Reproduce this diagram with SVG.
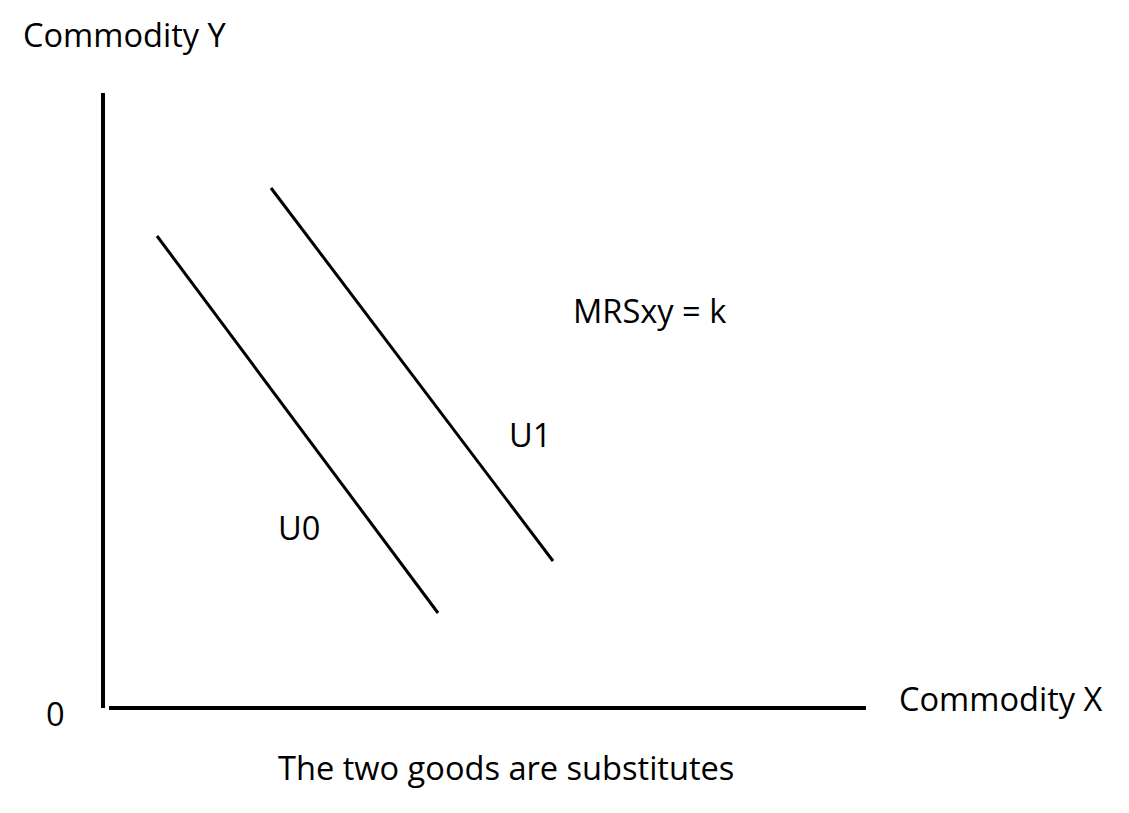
<svg xmlns="http://www.w3.org/2000/svg" width="1129" height="813" viewBox="0 0 1129 813">
<style>
text{font-family:"Open Sans","Liberation Sans",sans-serif;font-size:32.6px;fill:#000}
.axis{stroke:#000;stroke-width:4;fill:none}
.curve{stroke:#000;stroke-width:3;fill:none}
</style>
<rect width="1129" height="813" fill="#fff"/>
<g id="axes">
<line class="axis" x1="103" y1="93" x2="103" y2="708"/>
<line class="axis" x1="109" y1="708" x2="866" y2="708"/>
</g>
<g id="connectors">
<line id="U0-curve" class="curve" x1="157" y1="236" x2="438" y2="613"/>
<line id="U1-curve" class="curve" x1="271" y1="188" x2="553" y2="561"/>
</g>
<g id="labels">
<text x="23" y="47">Commodity Y</text>
<text x="46" y="726">0</text>
<text x="899" y="711">Commodity X</text>
<text x="573" y="323">MRSxy = k</text>
<text x="509" y="447">U1</text>
<text x="278" y="540">U0</text>
<text x="278" y="780">The two goods are substitutes</text>
</g>
</svg>
